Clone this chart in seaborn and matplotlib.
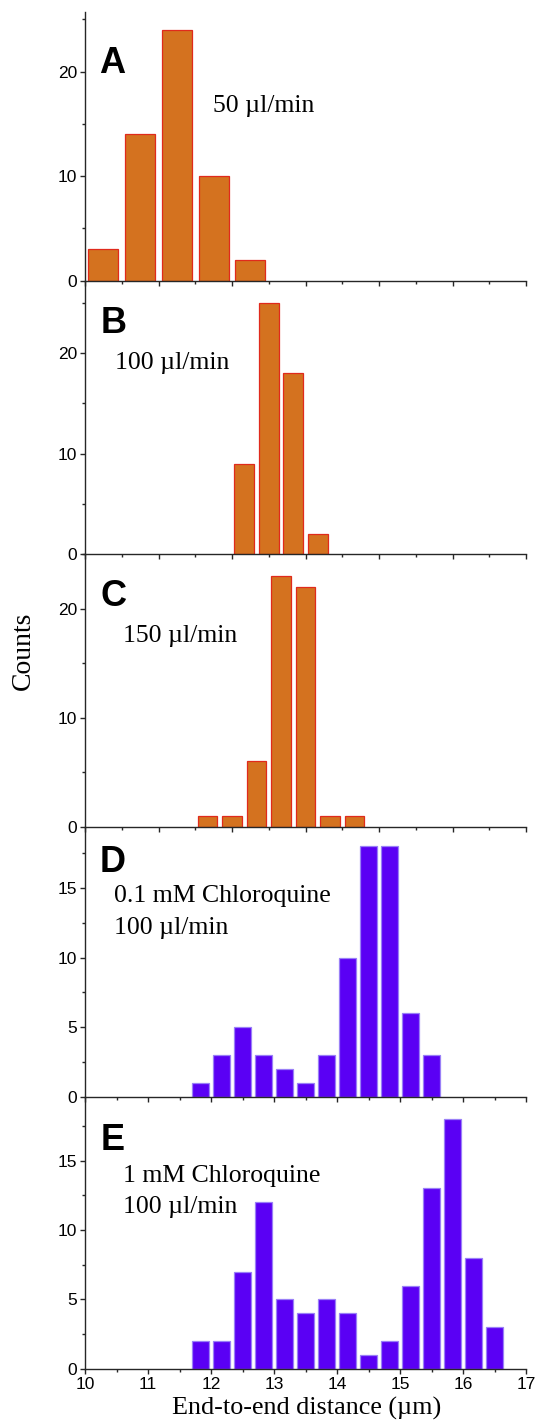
import matplotlib
matplotlib.use("Agg")
import matplotlib.pyplot as plt
import seaborn as sns
from matplotlib.ticker import MultipleLocator

## Data ##
# panels A-C share an unlabelled axis (6 units wide), D-E use 10-17 um
a_x = [10.25, 10.75, 11.25, 11.75, 12.25]
a_counts = [3, 14, 24, 10, 2]

b_x = [12.167, 12.5, 12.833, 13.167]
b_counts = [9, 25, 18, 2]

c_x = [11.667, 12.0, 12.333, 12.667, 13.0, 13.333, 13.667]
c_counts = [1, 1, 6, 23, 22, 1, 1]

d_x = [11.833, 12.167, 12.5, 12.833, 13.167, 13.5, 13.833, 14.167,
       14.5, 14.833, 15.167, 15.5]
d_counts = [1, 3, 5, 3, 2, 1, 3, 10, 18, 18, 6, 3]

e_x = [11.833, 12.167, 12.5, 12.833, 13.167, 13.5, 13.833, 14.167,
       14.5, 14.833, 15.167, 15.5, 15.833, 16.167, 16.5]
e_counts = [2, 2, 7, 12, 5, 4, 5, 4, 1, 2, 6, 13, 18, 8, 3]

letters = ["A", "B", "C", "D", "E"]
notes = [["50 µl/min"], ["100 µl/min"], ["150 µl/min"],
         ["0.1 mM Chloroquine", "100 µl/min"],
         ["1 mM Chloroquine", "100 µl/min"]]
x_ticks = [10, 11, 12, 13, 14, 15, 16, 17]

## Style ##
sns.set_theme(style="white")
plt.rcParams["font.family"] = ["Liberation Sans", "DejaVu Sans"]
plt.rcParams["text.color"] = "black"
plt.rcParams["xtick.color"] = "black"
plt.rcParams["ytick.color"] = "black"
serif = ["Liberation Serif", "DejaVu Serif"]

orange = "#d4721f"
orange_edge = "#e02a1c"
purple = "#5a00f4"
purple_edge = "#9a80f7"
axis_col = "#262626"

W, H = 536, 1421
fig = plt.figure(figsize=(W / 100, H / 100), dpi=100)

def px_rect(top, bottom, left=85, right=526):
    return [left / W, 1 - bottom / H, (right - left) / W, (bottom - top) / H]

# (top, bottom) in pixels for each panel
rects = [(12, 280.7), (281, 554), (554, 826.7), (826.7, 1096.7), (1097, 1368.7)]
panels = [
    (a_x, a_counts, orange, orange_edge, 0.82, (10, 16), 25.7, 10),
    (b_x, b_counts, orange, orange_edge, 0.81, (10, 16), 27.2, 10),
    (c_x, c_counts, orange, orange_edge, 0.81, (10, 16), 25.0, 10),
    (d_x, d_counts, purple, purple_edge, 0.84, (10, 17), 19.4, 5),
    (e_x, e_counts, purple, purple_edge, 0.84, (10, 17), 19.6, 5),
]

# letter / note positions (left px, baseline px per line)
letter_pos = [(99, 72.7), (100.5, 332.7), (100, 606), (100, 872.5), (100.5, 1150)]
note_pos = [(212.7, [111.7]), (115, [369.3]), (123.3, [641.7]),
            (114, [901.7, 934]), (123.3, [1181.7, 1213.3])]

axes = []
for i, (xs, ys, fc, ec, w, xlim, ytop, ymaj) in enumerate(panels):
    ax = fig.add_axes(px_rect(*rects[i]))
    sns.barplot(x=xs, y=ys, native_scale=True, width=w, color=fc,
                edgecolor=ec, linewidth=0.9, saturation=1, ax=ax)
    ax.set_xlim(*xlim)
    ax.set_ylim(0, ytop)
    ax.xaxis.set_major_locator(MultipleLocator(1))
    ax.xaxis.set_minor_locator(MultipleLocator(0.5))
    ax.yaxis.set_major_locator(MultipleLocator(ymaj))
    ax.yaxis.set_minor_locator(MultipleLocator(ymaj / 2))
    ax.set_xlabel("")
    ax.set_ylabel("")
    for side in ["top", "right"]:
        ax.spines[side].set_visible(False)
    for side in ["left", "bottom"]:
        ax.spines[side].set_linewidth(1.0)
        ax.spines[side].set_color(axis_col)
    ax.tick_params(which="major", direction="out", length=3.8, width=1.0,
                   color=axis_col, labelcolor="black", labelsize=12.5, pad=2,
                   bottom=True, left=True)
    ax.tick_params(which="minor", direction="out", length=2.2, width=1.0,
                   color=axis_col, bottom=True, left=True)
    if i < 4:
        ax.set_xticklabels([])
    else:
        ax.set_xticks(x_ticks)
        ax.set_xticklabels([str(t) for t in x_ticks])
    ax.patch.set_alpha(0)
    axes.append(ax)

    fig.text(letter_pos[i][0] / W, 1 - letter_pos[i][1] / H, letters[i],
             fontsize=26, fontweight="bold", va="baseline", ha="left")
    nx, baselines = note_pos[i]
    for line, by in zip(notes[i], baselines):
        fig.text(nx / W, 1 - by / H, line, fontsize=18.5, family=serif,
                 va="baseline", ha="left")

fig.text(23 / W, 1 - 651 / H, "Counts", rotation=90, fontsize=20,
         family=serif, ha="center", va="center")
fig.text(307 / W, 1 - 1415 / H, "End-to-end distance (µm)", fontsize=18.8,
         family=serif, ha="center", va="baseline")

fig.savefig("out.png", dpi=100)
